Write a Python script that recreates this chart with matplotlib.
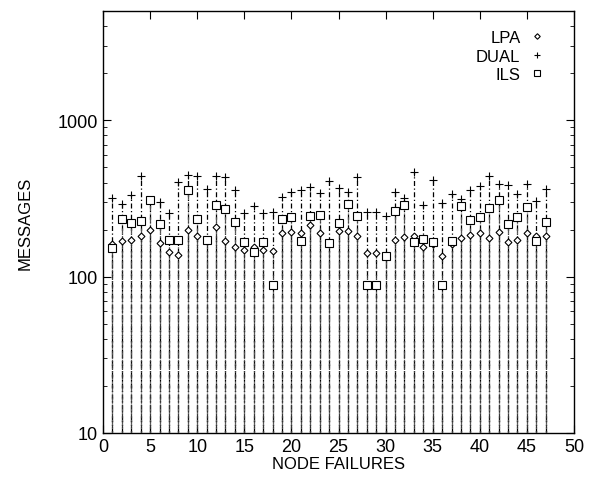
import matplotlib
matplotlib.use("Agg")
import matplotlib.pyplot as plt
from matplotlib.ticker import LogLocator, FixedLocator, NullFormatter
import numpy as np

plt.rcParams['font.family'] = ['Liberation Sans', 'DejaVu Sans']

failures = list(range(1, 48))
lpa = [161, 169, 172, 183, 198, 163, 143, 137, 198, 183, 171, 208,
       169, 155, 149, 154, 149, 145, 191, 194, 191, 213, 191, 163,
       197, 197, 183, 142, 142, 135, 172, 179, 183, 154, 161, 135,
       161, 176, 185, 190, 177, 194, 166, 172, 191, 183, 183]
dual = [319, 292, 332, 443, 310, 299, 256, 402, 445, 439, 362, 439,
        432, 357, 256, 285, 256, 258, 325, 347, 357, 377, 342, 410,
        370, 350, 432, 258, 258, 244, 347, 318, 465, 286, 416, 294,
        340, 315, 357, 381, 443, 394, 384, 340, 390, 304, 362]
ils = [152, 232, 219, 228, 310, 217, 171, 171, 356, 232, 171, 289,
       269, 225, 166, 144, 166, 89, 232, 241, 170, 245, 249, 165,
       221, 292, 244, 88, 88, 135, 262, 286, 166, 173, 167, 89,
       170, 281, 230, 241, 276, 307, 217, 239, 278, 170, 224]

fig = plt.figure(figsize=(5.9, 4.85), dpi=100)
ax = fig.add_axes([103/590, 1-434/485, (574-103)/590, (434-12)/485])

ax.vlines(failures, 10, dual, colors='black', linestyles=(0, (4, 2, 1, 2)), lw=0.9)
ax.vlines(failures, 10, ils, colors='#555555', linestyles=(2, (4, 2, 1, 2)), lw=0.9)
ax.vlines(failures, 10, lpa, colors='#333333', linestyles=(4, (3, 2, 1, 2)), lw=0.9)

ax.plot(failures, lpa, linestyle='none', marker='D', ms=3.5, mfc='white', mec='black', mew=0.8, label='LPA')
ax.plot(failures, dual, linestyle='none', marker='+', ms=5.5, mec='black', mew=0.8, label='DUAL')
ax.plot(failures, ils, linestyle='none', marker='s', ms=5.5, mfc='white', mec='black', mew=0.8, label='ILS')

ax.set_yscale('log')
ax.set_ylim(10, 5000)
ax.set_xlim(0, 50)
ax.xaxis.set_major_locator(FixedLocator(range(0, 51, 5)))
ax.yaxis.set_major_locator(FixedLocator([10, 100, 1000]))
ax.yaxis.set_minor_locator(LogLocator(base=10, subs=range(2, 10)))
ax.yaxis.set_minor_formatter(NullFormatter())
ax.set_yticklabels(['10', '100', '1000'])
ax.tick_params(which='both', direction='in', top=True, right=True, labelsize=13)
ax.tick_params(which='major', length=6)
ax.tick_params(which='minor', length=3)

ax.set_xlabel('NODE FAILURES', fontsize=12, labelpad=1)
ax.set_ylabel('MESSAGES', fontsize=12, labelpad=18)

leg = ax.legend(loc='upper right', bbox_to_anchor=(0.95, 0.97), frameon=False,
                markerfirst=False, fontsize=12,
                handlelength=0.8, handletextpad=0.6, labelspacing=0.2,
                borderaxespad=0.0, markerscale=0.8)

for s in ax.spines.values():
    s.set_linewidth(1.0)

fig.savefig('out.png', dpi=100)
